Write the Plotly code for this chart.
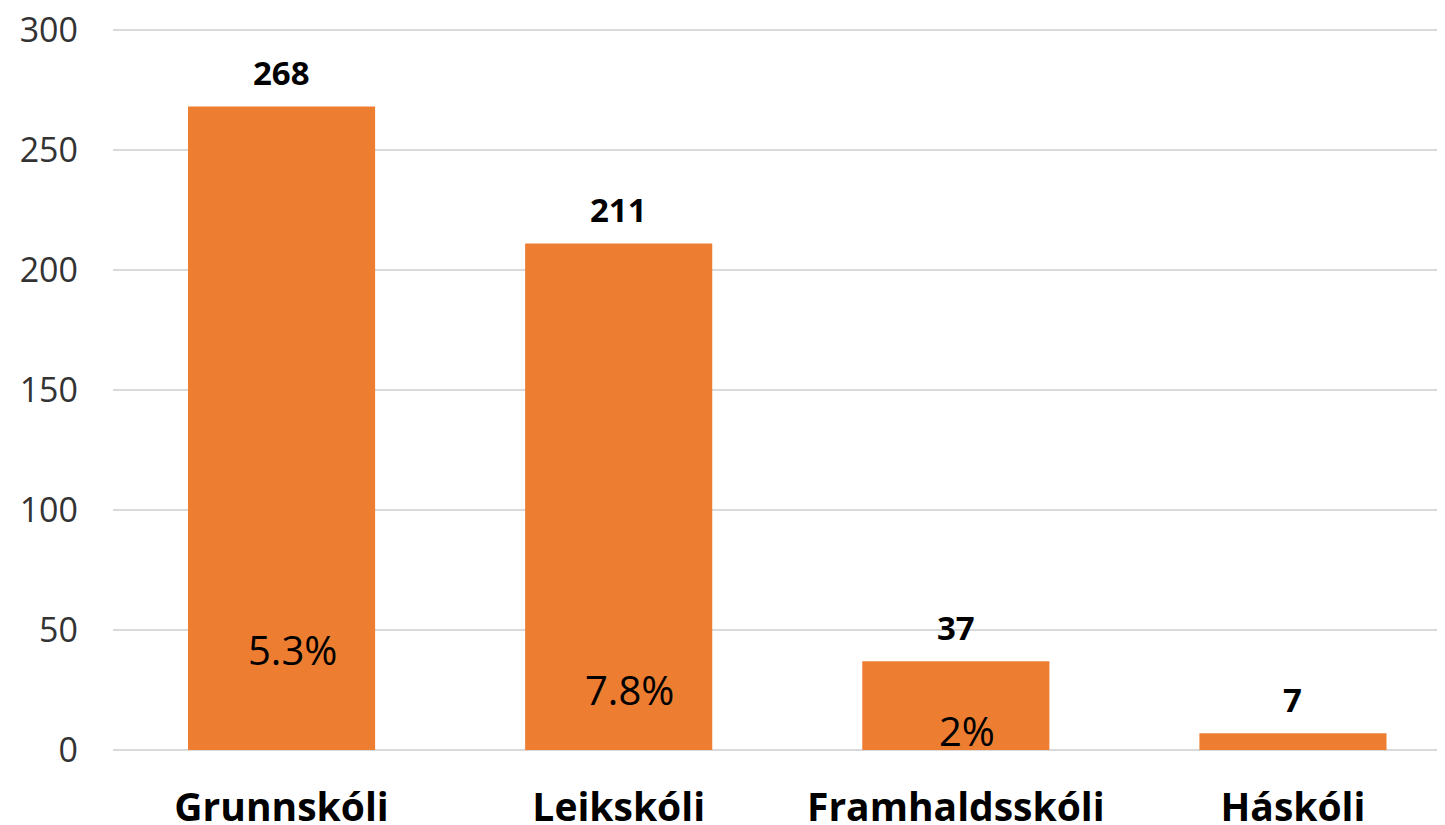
import plotly.graph_objects as go

categories = ["Grunnskóli", "Leikskóli", "Framhaldsskóli", "Háskóli"]
values = [268, 211, 37, 7]
pct_labels = ["5.3%", "7.8%", "2%", ""]
pct_y = [42, 25, 8.1, None]
y_ticks = [0, 50, 100, 150, 200, 250, 300]

BAR = "#ED7D31"
FONT = "Open Sans"

fig = go.Figure()
fig.add_trace(go.Bar(
    x=categories, y=values, marker=dict(color=BAR, line=dict(width=0)),
    width=0.555, hoverinfo="skip",
))

annotations = []
for c, v in zip(categories, values):
    annotations.append(dict(
        x=c, y=v, xref="x", yref="y", text=f"<b>{v}</b>", showarrow=False,
        yanchor="middle", yshift=34,
        font=dict(family=FONT, size=33, color="#000000"),
    ))
for c, t, py in zip(categories, pct_labels, pct_y):
    if t and py is not None:
        annotations.append(dict(
            x=c, y=py, xref="x", yref="y", text=t, showarrow=False,
            yanchor="middle", xshift=11,
            font=dict(family=FONT, size=40, color="#000000"),
        ))

# page body has an 8px default margin, so the figure is sized to end at the window edge
fig.update_layout(
    width=1437, height=817,
    margin=dict(l=105, r=0, t=17, b=75),
    paper_bgcolor="white", plot_bgcolor="white",
    showlegend=False,
    annotations=annotations,
    font=dict(family=FONT, color="#000000"),
    xaxis=dict(
        range=[-0.5, 3.451], showgrid=False, zeroline=False, showline=False,
        ticks="", ticklabelstandoff=31, automargin=False,
        ticklabeloverflow="allow",
        tickfont=dict(family=FONT, size=39, color="#000000", weight="bold"),
    ),
    yaxis=dict(
        range=[0, 302], tickvals=y_ticks, showgrid=True,
        gridcolor="#D9D9D9", gridwidth=1.5, zeroline=True,
        zerolinecolor="#D9D9D9", zerolinewidth=1.5, showline=False,
        ticks="", ticklabelstandoff=34, automargin=False,
        ticklabeloverflow="allow",
        tickfont=dict(family=FONT, size=34, color="#333333"),
    ),
)

fig.write_html("out.html")
